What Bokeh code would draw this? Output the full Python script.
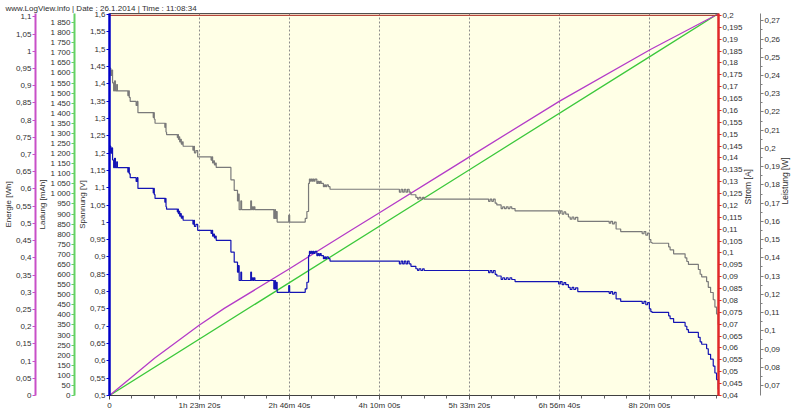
import math
from bokeh.plotting import figure
from bokeh.models import Range1d, LinearAxis, FixedTicker, CustomJSTickFormatter
from bokeh.embed import file_html
from bokeh.resources import INLINE

title_text = "www.LogView.info  |  Date : 26.1.2014  |  Time : 11:08:34"

# ---- data ----
t_sec = [0, 70, 130, 170, 230, 280, 330, 400, 440, 1020, 1060, 1100, 1150, 1480, 1540, 1580,
         2430, 2460, 2490, 2530, 3075, 3110, 3140, 3170, 3770, 3800, 3830, 3870, 3900, 3940,
         3990, 4050, 4090, 4635, 4680, 4720, 4800, 4900, 5645, 5690, 5730, 5780, 5830, 5880,
         5930, 6746, 6930, 7113, 7160, 7205, 7297, 7340, 7847, 7890, 7939, 7990, 8031, 8080,
         9131, 9180, 9224, 9270, 9316, 9959, 10010, 10876, 10968, 11060, 11110, 11160, 11210,
         11260, 11310, 11360, 11420, 11520, 11580, 11640, 11700, 11760, 11887, 11950, 12010,
         12070, 12162, 12253, 16108, 16200, 16290, 16380, 16470, 16560, 16650, 16750, 17025,
         17120, 17200, 17300, 17400, 17485, 21064, 21150, 21240, 21330, 21430, 21522, 21762,
         21850, 21950, 22050, 22150, 22250, 22350, 22535, 24957, 25050, 25150, 25250, 25350,
         25500, 25600, 25700, 25800, 25900, 26021, 27766, 27850, 27950, 28050, 28150, 28405,
         29600, 29700, 29800, 29900, 30000, 30080, 30150, 31070, 31150, 31346, 31984, 32080,
         32170, 32721, 32820, 32905, 33180, 33272, 33400, 33548, 33640, 33732, 33824]

spannung_v = [1.220, 1.200, 1.215, 1.180, 1.158, 1.185, 1.158, 1.175, 1.158, 1.145, 1.158, 1.140,
              1.129, 1.118, 1.129, 1.098, 1.085, 1.098, 1.080, 1.069, 1.058, 1.069, 1.045, 1.038,
              1.030, 1.038, 1.025, 1.032, 1.018, 1.025, 1.012, 1.018, 1.006, 0.995, 1.006, 0.988,
              0.994, 0.977, 0.968, 0.977, 0.960, 0.966, 0.955, 0.960, 0.948, 0.914, 0.885, 0.856,
              0.875, 0.832, 0.856, 0.832, 0.856, 0.832, 0.840, 0.832, 0.840, 0.832, 0.808, 0.832,
              0.808, 0.827, 0.798, 0.817, 0.798, 0.808, 0.827, 0.904, 0.916, 0.910, 0.916, 0.910,
              0.916, 0.910, 0.916, 0.904, 0.910, 0.904, 0.910, 0.904, 0.895, 0.900, 0.895, 0.900,
              0.895, 0.888, 0.880, 0.888, 0.880, 0.888, 0.880, 0.888, 0.880, 0.873, 0.866, 0.861,
              0.866, 0.861, 0.866, 0.861, 0.855, 0.861, 0.855, 0.861, 0.850, 0.845, 0.835, 0.840,
              0.835, 0.840, 0.835, 0.840, 0.835, 0.829, 0.822, 0.829, 0.820, 0.826, 0.820, 0.812,
              0.806, 0.812, 0.806, 0.811, 0.800, 0.795, 0.800, 0.793, 0.798, 0.779, 0.772, 0.766,
              0.772, 0.762, 0.768, 0.750, 0.742, 0.740, 0.730, 0.722, 0.711, 0.700, 0.690, 0.682,
              0.668, 0.655, 0.648, 0.635, 0.619, 0.605, 0.585, 0.565, 0.546, 0.517]

leistung_w = [0.2440, 0.2400, 0.2430, 0.2360, 0.2316, 0.2370, 0.2316, 0.2350, 0.2316, 0.2290,
              0.2316, 0.2280, 0.2258, 0.2236, 0.2258, 0.2196, 0.2170, 0.2196, 0.2160, 0.2138,
              0.2116, 0.2138, 0.2090, 0.2076, 0.2060, 0.2076, 0.2050, 0.2064, 0.2036, 0.2050,
              0.2024, 0.2036, 0.2012, 0.1990, 0.2012, 0.1976, 0.1988, 0.1954, 0.1936, 0.1954,
              0.1920, 0.1932, 0.1910, 0.1920, 0.1896, 0.1828, 0.1770, 0.1712, 0.1750, 0.1664,
              0.1712, 0.1664, 0.1712, 0.1664, 0.1680, 0.1664, 0.1680, 0.1664, 0.1616, 0.1664,
              0.1616, 0.1654, 0.1596, 0.1634, 0.1596, 0.1616, 0.1654, 0.1808, 0.1832, 0.1820,
              0.1832, 0.1820, 0.1832, 0.1820, 0.1832, 0.1808, 0.1820, 0.1808, 0.1820, 0.1808,
              0.1790, 0.1800, 0.1790, 0.1800, 0.1790, 0.1776, 0.1760, 0.1776, 0.1760, 0.1776,
              0.1760, 0.1776, 0.1760, 0.1746, 0.1732, 0.1722, 0.1732, 0.1722, 0.1732, 0.1722,
              0.1710, 0.1722, 0.1710, 0.1722, 0.1700, 0.1690, 0.1670, 0.1680, 0.1670, 0.1680,
              0.1670, 0.1680, 0.1670, 0.1658, 0.1644, 0.1658, 0.1640, 0.1652, 0.1640, 0.1624,
              0.1612, 0.1624, 0.1612, 0.1622, 0.1600, 0.1590, 0.1600, 0.1586, 0.1596, 0.1558,
              0.1544, 0.1532, 0.1544, 0.1524, 0.1536, 0.1500, 0.1484, 0.1480, 0.1460, 0.1444,
              0.1422, 0.1400, 0.1380, 0.1364, 0.1336, 0.1310, 0.1296, 0.1270, 0.1238, 0.1210,
              0.1170, 0.1130, 0.1092, 0.1034]

energie_t = [0, 2500, 5000, 6377, 10000, 11702, 13354, 15000, 18861, 20000, 25012, 30057, 33840]
energie_wh = [0, 0.108, 0.205, 0.253, 0.368, 0.424, 0.478, 0.531, 0.656, 0.693, 0.855, 1.005, 1.109]

ladung_t = [0, 10000, 20000, 30000, 33840]
ladung_mah = [0, 560, 1120, 1680, 1895]

strom_t = [0, 33840]
strom_a = [0.2, 0.2]

x_ticks = [0, 5000, 10000, 15000, 20000, 25000, 30000]
x_tick_labels = ["0", "1h 23m 20s", "2h 46m 40s", "4h 10m 00s", "5h 33m 20s", "6h 56m 40s", "8h 20m 00s"]
x_minor = [1250 * i for i in range(1, 28)]

energie_ticks = [round(0.05 * i, 2) for i in range(23)]
ladung_ticks = [50 * i for i in range(38)]
spannung_ticks = [round(0.5 + 0.05 * i, 2) for i in range(23)]
strom_ticks = [round(0.04 + 0.005 * i, 3) for i in range(33)]
leistung_ticks = [round(0.07 + 0.01 * i, 2) for i in range(21)]
leistung_minor = [round(0.075 + 0.01 * i, 3) for i in range(20)]

# ---- colours ----
C_SPANNUNG = "#1414B4"
C_SPANNUNG_AX = "#0000C8"
C_LEISTUNG = "#7A7A7A"
C_ENERGIE = "#B43CC8"
C_ENERGIE_AX = "#C850C8"
C_LADUNG = "#3CC83C"
C_LADUNG_AX = "#64D264"
C_STROM = "#B4463C"
C_STROM_AX = "#E02828"
FONT = "Liberation Sans"
TXT = "#303030"

p = figure(width=798, height=412, x_range=Range1d(0, 33840), y_range=Range1d(0.5, 1.603),
           output_backend="svg", toolbar_location=None,
           min_border_left=100, min_border_right=0, min_border_top=0, min_border_bottom=0,
           background_fill_color="#FFFFE6", border_fill_color="white")
p.extra_y_ranges = {
    "energie": Range1d(0, 1.1096),
    "ladung": Range1d(0, 1895),
    "strom": Range1d(0.04, 0.2008),
    "leistung": Range1d(0.0645, 0.274),
}
p.outline_line_color = "#505050"

p.title.text = title_text
p.title.text_font = FONT
p.title.text_font_size = "8px"
p.title.text_font_style = "normal"
p.title.text_color = TXT
p.title.align = "left"
p.title.offset = -104
p.title.standoff = 2

comma_fmt = CustomJSTickFormatter(code="""
const r = Math.round(tick * 100000) / 100000;
return String(r).replace('.', ',');
""")
thousand_fmt = CustomJSTickFormatter(code="""
const r = Math.round(tick);
return r >= 1000 ? Math.floor(r / 1000) + ' ' + String(r % 1000).padStart(3, '0') : String(r);
""")
x_fmt = CustomJSTickFormatter(args=dict(xt_vals=x_ticks, xt_labels=x_tick_labels), code="""
const i = xt_vals.indexOf(tick);
return i >= 0 ? xt_labels[i] : '';
""")


def style_axis(ax, color, lw, label, label_standoff=0, label_size="8px"):
    ax.axis_label = label
    ax.axis_label_text_font = FONT
    ax.axis_label_text_font_size = label_size
    ax.axis_label_text_font_style = "normal"
    ax.axis_label_text_color = TXT
    ax.axis_label_standoff = label_standoff
    ax.axis_line_color = color
    ax.axis_line_width = lw
    ax.major_tick_line_color = color
    ax.major_tick_out = 3
    ax.major_tick_in = 0
    ax.minor_tick_line_color = color
    ax.minor_tick_out = 2
    ax.minor_tick_in = 0
    ax.major_label_text_font = FONT
    ax.major_label_text_font_size = "8px"
    ax.major_label_text_color = TXT
    ax.major_label_standoff = 1


# left axes: Spannung (inner), Ladung, Energie (outer)
ax_sp = p.yaxis[0]
ax_sp.ticker = FixedTicker(ticks=spannung_ticks)
ax_sp.formatter = comma_fmt
style_axis(ax_sp, C_SPANNUNG_AX, 2.5, "Spannung [V]")

ax_la = LinearAxis(y_range_name="ladung", ticker=FixedTicker(ticks=ladung_ticks), formatter=thousand_fmt)
style_axis(ax_la, C_LADUNG_AX, 2, "Ladung [mAh]")
p.add_layout(ax_la, "left")

ax_en = LinearAxis(y_range_name="energie", ticker=FixedTicker(ticks=energie_ticks), formatter=comma_fmt)
style_axis(ax_en, C_ENERGIE_AX, 2, "Energie [Wh]")
p.add_layout(ax_en, "left")

# right axes: Strom (inner), Leistung (outer)
ax_st = LinearAxis(y_range_name="strom", ticker=FixedTicker(ticks=strom_ticks), formatter=comma_fmt)
style_axis(ax_st, C_STROM_AX, 2.5, "Strom [A]", 2, "8.5px")
ax_st.axis_label_orientation = math.pi / 2
p.add_layout(ax_st, "right")

ax_le = LinearAxis(y_range_name="leistung",
                   ticker=FixedTicker(ticks=leistung_ticks, minor_ticks=leistung_minor),
                   formatter=comma_fmt)
style_axis(ax_le, "#808080", 1, "Leistung [W]", 2, "8.5px")
ax_le.axis_label_orientation = math.pi / 2
p.add_layout(ax_le, "right")

# x axis
xt = FixedTicker(ticks=x_ticks, minor_ticks=x_minor)
ax_x = p.xaxis[0]
ax_x.axis_label = None
ax_x.ticker = xt
ax_x.formatter = x_fmt
ax_x.axis_line_color = "#404040"
ax_x.major_tick_line_color = "#404040"
ax_x.minor_tick_line_color = "#606060"
ax_x.major_tick_out = 4
ax_x.major_tick_in = 0
ax_x.minor_tick_out = 3
ax_x.minor_tick_in = 0
ax_x.major_label_text_font = FONT
ax_x.major_label_text_font_size = "8px"
ax_x.major_label_text_color = TXT
ax_x.major_label_standoff = 1

p.xgrid.ticker = xt
p.xgrid.grid_line_color = "#8C8C8C"
p.xgrid.grid_line_dash = "2 2"
p.xgrid.grid_line_width = 1
p.ygrid.visible = False

# series
p.line(ladung_t, ladung_mah, y_range_name="ladung", line_color=C_LADUNG, line_width=1.3)
p.line(energie_t, energie_wh, y_range_name="energie", line_color=C_ENERGIE, line_width=1.3)
p.step(t_sec, leistung_w, y_range_name="leistung", mode="after", line_color=C_LEISTUNG, line_width=1.2)
p.step(t_sec, spannung_v, mode="after", line_color=C_SPANNUNG, line_width=1.2)
p.line(strom_t, strom_a, y_range_name="strom", line_color=C_STROM, line_width=1.2)

open("out.html", "w").write(file_html(p, INLINE))
